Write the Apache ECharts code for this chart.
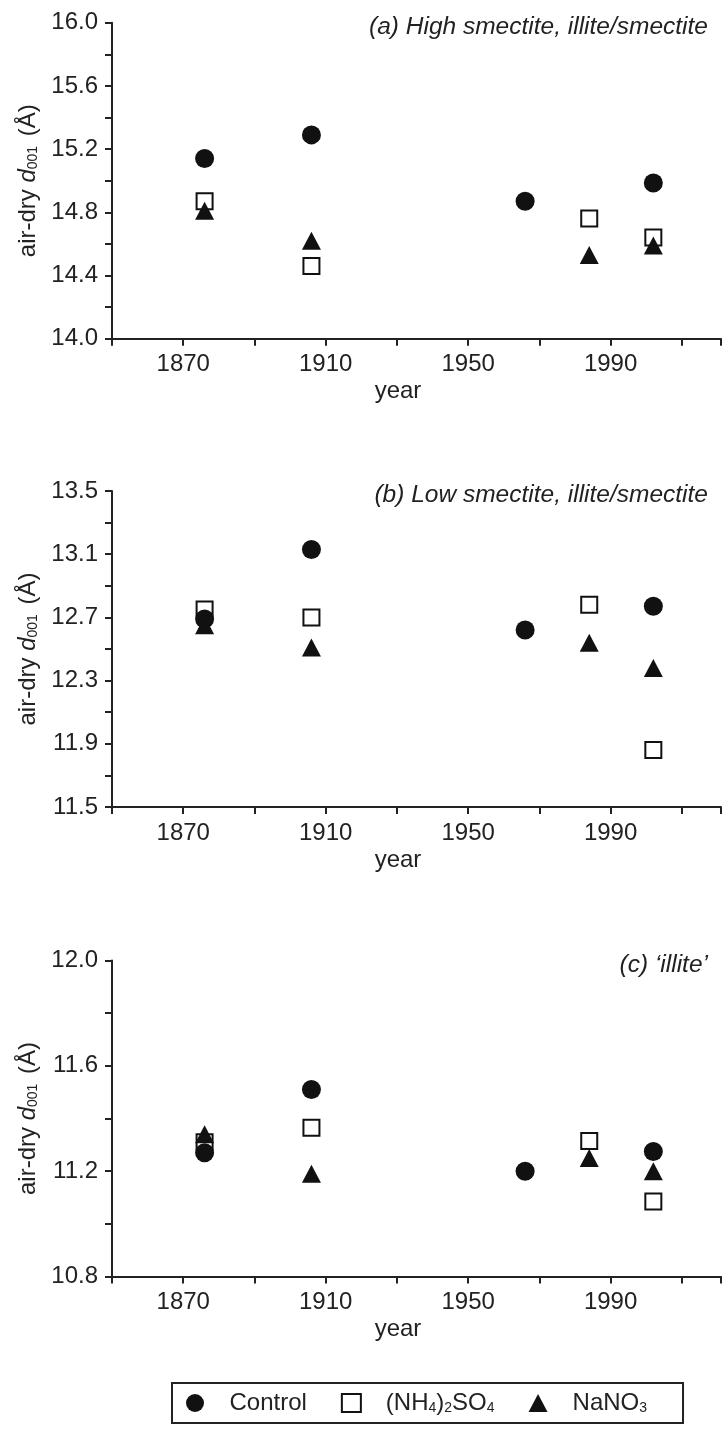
<!DOCTYPE html>
<html>
<head>
<meta charset="utf-8">
<script src="https://cdn.jsdelivr.net/npm/echarts@6/dist/echarts.min.js"></script>
<style>
  html, body { margin: 0; padding: 0; background: #fff; }
  #chart { width: 724px; height: 1436px; }
</style>
</head>
<body>
<div id="chart"></div>
<script>
// sample years
var controlYears = [1876, 1906, 1966, 2002];
var treatYears = [1876, 1906, 1984, 2002];

// (a) high smectite
var controlA = [15.14, 15.29, 14.87, 14.985];
var ammA = [14.87, 14.46, 14.76, 14.64];
var nitA = [14.81, 14.62, 14.53, 14.59];

// (b) low smectite
var controlB = [12.69, 13.13, 12.62, 12.77];
var ammB = [12.75, 12.70, 12.78, 11.86];
var nitB = [12.65, 12.51, 12.54, 12.38];

// (c) illite
var controlC = [11.27, 11.51, 11.20, 11.275];
var ammC = [11.31, 11.365, 11.315, 11.085];
var nitC = [11.34, 11.19, 11.25, 11.20];

// axis labels
var xLabelYears = [1870, 1910, 1950, 1990];
var yRanges = [[14.0, 16.0], [11.5, 13.5], [10.8, 12.0]];
var panelTitles = ['(a) High smectite, illite/smectite', '(b) Low smectite, illite/smectite', '(c) \u2018illite\u2019'];
var seriesNames = ['Control', '(NH4)2SO4', 'NaNO3'];

var FONT = '"Liberation Sans", Arial, sans-serif';
var INK = '#222';
var FS = 24;
var gridTops = [22.7, 491, 960.5];
var gridH = 316;

function pair(xs, ys) {
    return xs.map(function (x, i) { return [x, ys[i]]; });
}

var chart = echarts.init(document.getElementById('chart'));

var grids = [], xAxes = [], yAxes = [], titles = [], series = [];
var panelData = [
    [controlA, ammA, nitA],
    [controlB, ammB, nitB],
    [controlC, ammC, nitC]
];

panelData.forEach(function (d, p) {
    grids.push({ left: 112, right: 0, top: gridTops[p], height: gridH });
    titles.push({
        text: panelTitles[p], right: 11, top: gridTops[p] - 13,
        textStyle: { fontFamily: FONT, fontSize: 24.5, fontStyle: 'italic', fontWeight: 'normal', color: INK }
    });
    xAxes.push({
        gridIndex: p, type: 'value', min: 1850, max: 2021, interval: 20,
        name: 'year', nameLocation: 'middle', nameGap: 41,
        nameTextStyle: { fontFamily: FONT, fontSize: FS, color: INK, padding: [0, 37, 0, 0] },
        axisLine: { show: true, onZero: false, lineStyle: { color: INK, width: 2 } },
        axisTick: { show: true, length: 7, lineStyle: { color: INK, width: 2 } },
        axisLabel: {
            margin: 14, fontFamily: FONT, fontSize: FS, color: INK, showMaxLabel: true,
            formatter: function (v) { return xLabelYears.indexOf(Math.round(v)) >= 0 ? String(Math.round(v)) : ''; }
        },
        splitLine: { show: false }
    });
    var lo = yRanges[p][0];
    yAxes.push({
        gridIndex: p, type: 'value', min: yRanges[p][0], max: yRanges[p][1], interval: 0.2,
        name: 'air-dry {i|d}{s|001} (\u00c5)', nameLocation: 'middle', nameRotate: 90, nameGap: 70,
        nameTextStyle: {
            fontFamily: FONT, fontSize: FS, color: INK,
            rich: {
                i: { fontFamily: FONT, fontSize: FS, fontStyle: 'italic', color: INK },
                s: { fontFamily: FONT, fontSize: 14, color: INK, verticalAlign: 'bottom', padding: [0, 3, 0, 0] }
            }
        },
        axisLine: { show: true, lineStyle: { color: INK, width: 2 } },
        axisTick: { show: true, length: 7, lineStyle: { color: INK, width: 2 } },
        axisLabel: {
            margin: 14, fontFamily: FONT, fontSize: FS, color: INK,
            formatter: function (v) {
                var k = Math.round((v - lo) / 0.2);
                return k % 2 === 0 ? v.toFixed(1) : '';
            }
        },
        splitLine: { show: false }
    });
    // squares first, then circles, then triangles on top
    series.push({
        name: seriesNames[1], type: 'scatter', xAxisIndex: p, yAxisIndex: p,
        symbol: 'rect', symbolSize: 16,
        itemStyle: { color: '#fff', borderColor: '#111', borderWidth: 2, opacity: 1 },
        data: pair(treatYears, d[1])
    });
    series.push({
        name: seriesNames[0], type: 'scatter', xAxisIndex: p, yAxisIndex: p,
        symbol: 'circle', symbolSize: 19,
        itemStyle: { color: '#111', opacity: 1 },
        data: pair(controlYears, d[0])
    });
    series.push({
        name: seriesNames[2], type: 'scatter', xAxisIndex: p, yAxisIndex: p,
        symbol: 'triangle', symbolSize: [19, 18],
        itemStyle: { color: '#111', opacity: 1 },
        data: pair(treatYears, d[2])
    });
});

chart.setOption({
    animation: false,
    backgroundColor: '#fff',
    textStyle: { fontFamily: FONT },
    title: titles,
    grid: grids,
    xAxis: xAxes,
    yAxis: yAxes,
    legend: {
        data: seriesNames,
        left: 172, top: 1383,
        orient: 'horizontal',
        itemWidth: 19, itemHeight: 18, itemGap: 34,
        padding: [8, 36, 8, 14],
        borderColor: INK, borderWidth: 2,
        textStyle: {
            fontFamily: FONT, fontSize: FS, color: INK, padding: [0, 0, 0, 20],
            rich: {
                s: { fontFamily: FONT, fontSize: 14, color: INK, verticalAlign: 'bottom' }
            }
        },
        formatter: function (name) {
            if (name === '(NH4)2SO4') return '(NH{s|4}){s|2}SO{s|4}';
            if (name === 'NaNO3') return 'NaNO{s|3}';
            return name;
        }
    },
    series: series
});
</script>
</body>
</html>
